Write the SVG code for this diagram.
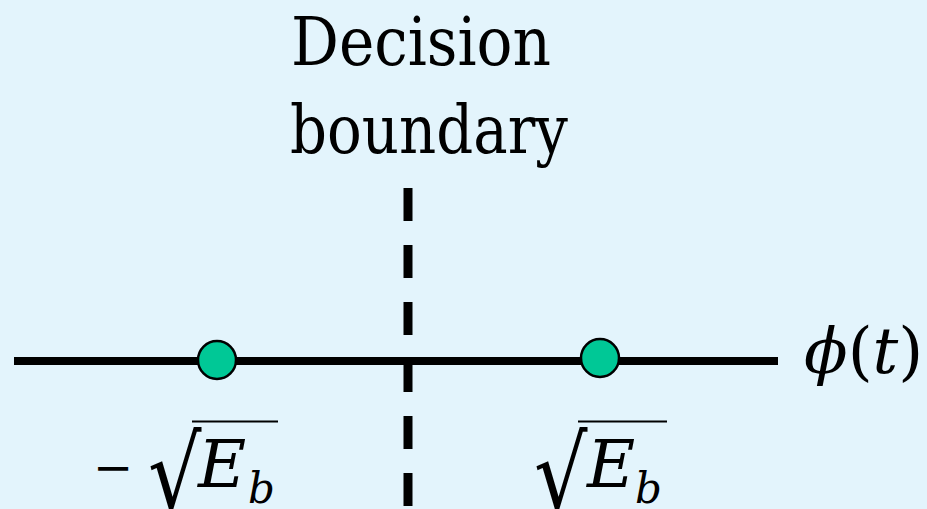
<svg xmlns="http://www.w3.org/2000/svg" width="927" height="509" viewBox="0 0 927 509">
<style>
text{font-family:'DejaVu Serif',serif;fill:#000}
.i{font-style:italic}
.pt{fill:#00C896;stroke:#000;stroke-width:2.5}
</style>
<rect width="927" height="509" fill="#E3F4FC"/>
<g id="connectors">
<line x1="408" y1="188" x2="408" y2="509" stroke="#000" stroke-width="9" stroke-dasharray="33 24"/>
<line x1="14" y1="361" x2="778" y2="361" stroke="#000" stroke-width="8"/>
</g>
<g id="boundary-label">
<text x="291" y="65" font-size="68" textLength="260" lengthAdjust="spacingAndGlyphs">Decision</text>
<text x="290" y="153" font-size="68" textLength="278" lengthAdjust="spacingAndGlyphs">boundary</text>
</g>
<g id="axis-label">
<text x="804" y="373" font-size="64"><tspan class="i">ϕ</tspan>(<tspan class="i">t</tspan>)</text>
</g>
<g id="point-neg">
<circle class="pt" cx="217" cy="360" r="19"/>
<text x="93" y="484" font-size="48">−</text>
<text x="148" y="494" font-size="84" transform="translate(0,421) scale(1,1.22) translate(0,-421)">√</text>
<line x1="192" y1="421.5" x2="278" y2="421.5" stroke="#000" stroke-width="2"/>
<text class="i" x="198" y="487" font-size="66">E</text>
<text class="i" x="248" y="503" font-size="42">b</text>
</g>
<g id="point-pos">
<circle class="pt" cx="600" cy="358" r="19"/>
<text x="534" y="494" font-size="84" transform="translate(0,421) scale(1,1.22) translate(0,-421)">√</text>
<line x1="578" y1="421.5" x2="667" y2="421.5" stroke="#000" stroke-width="2"/>
<text class="i" x="587" y="487" font-size="66">E</text>
<text class="i" x="635" y="503" font-size="42">b</text>
</g>
</svg>
